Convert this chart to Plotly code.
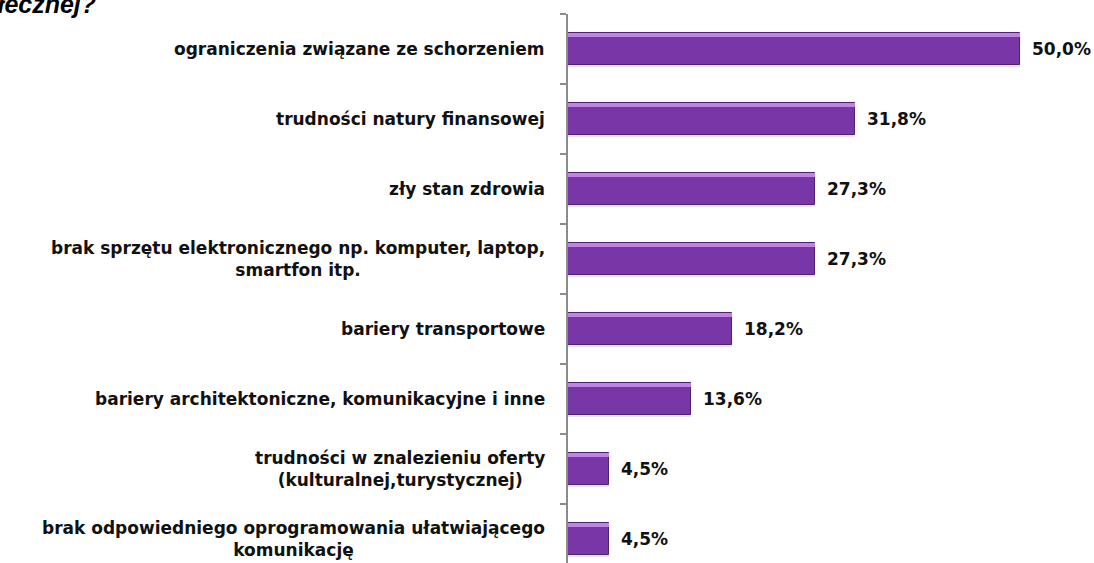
import plotly.graph_objects as go

categories = [
    "ograniczenia związane ze schorzeniem",
    "trudności natury finansowej",
    "zły stan zdrowia",
    "brak sprzętu elektronicznego np. komputer, laptop,<br>smartfon itp.",
    "bariery transportowe",
    "bariery architektoniczne, komunikacyjne i inne",
    "trudności w znalezieniu oferty<br>(kulturalnej,turystycznej)",
    "brak odpowiedniego oprogramowania ułatwiającego<br>komunikację",
]
values = [50.0, 31.8, 27.3, 27.3, 18.2, 13.6, 4.5, 4.5]
value_labels = ["50,0%", "31,8%", "27,3%", "27,3%", "18,2%", "13,6%", "4,5%", "4,5%"]
title_text = "społecznej?"

FONT = "DejaVu Sans"
ids = list(range(len(categories)))

fig = go.Figure()
# shadow
fig.add_trace(go.Bar(
    x=values, y=ids, orientation="h", width=0.46, offset=-0.20,
    marker=dict(color="rgba(0,0,0,0.10)", line=dict(width=0)),
    hoverinfo="skip", showlegend=False,
))
# main bar
fig.add_trace(go.Bar(
    x=values, y=ids, orientation="h", width=0.46, offset=-0.23,
    marker=dict(color="#7936A6", line=dict(color="#4E2270", width=1)),
    showlegend=False,
))
# top highlight
fig.add_trace(go.Bar(
    x=values, y=ids, orientation="h", width=0.05, offset=-0.225,
    marker=dict(color="#BE84E2", line=dict(width=0)),
    hoverinfo="skip", showlegend=False,
))

annotations = []
for i, (c, v, t) in enumerate(zip(categories, values, value_labels)):
    annotations.append(dict(
        x=0, y=i, xref="x", yref="y", text=c, showarrow=False,
        xanchor="right", yanchor="middle", align="center", xshift=-21,
        font=dict(family=FONT, size=17, color="#111111", weight="bold"),
    ))
    annotations.append(dict(
        x=v, y=i, xref="x", yref="y", text=t, showarrow=False,
        xanchor="left", yanchor="middle", xshift=10,
        font=dict(family=FONT, size=17, color="#111111", weight="bold"),
    ))
annotations.append(dict(
    x=-0.897, y=0.989, xref="paper", yref="paper", text="<i>" + title_text + "</i>",
    showarrow=False, xanchor="right", yanchor="bottom",
    font=dict(family="Liberation Sans", size=25, color="#000000", weight="bold"),
))

fig.update_layout(
    width=1094, height=563,
    margin=dict(l=568, r=2, t=14, b=0),
    plot_bgcolor="white", paper_bgcolor="white",
    barmode="overlay",
    bargap=0,
    annotations=annotations,
    xaxis=dict(range=[0, 58], visible=False, fixedrange=True),
    yaxis=dict(
        range=[7.343, -0.5], tickmode="array", tickvals=[i - 0.5 for i in ids] + [7.5],
        ticks="outside", ticklen=6, tickcolor="#8C8C8C", tickwidth=2,
        showticklabels=False, showgrid=False, zeroline=False,
        showline=True, linecolor="#8C8C8C", linewidth=2, fixedrange=True,
    ),
)

fig.write_html("out.html", config={"displayModeBar": False},
               post_script="document.body.style.margin='0';")
